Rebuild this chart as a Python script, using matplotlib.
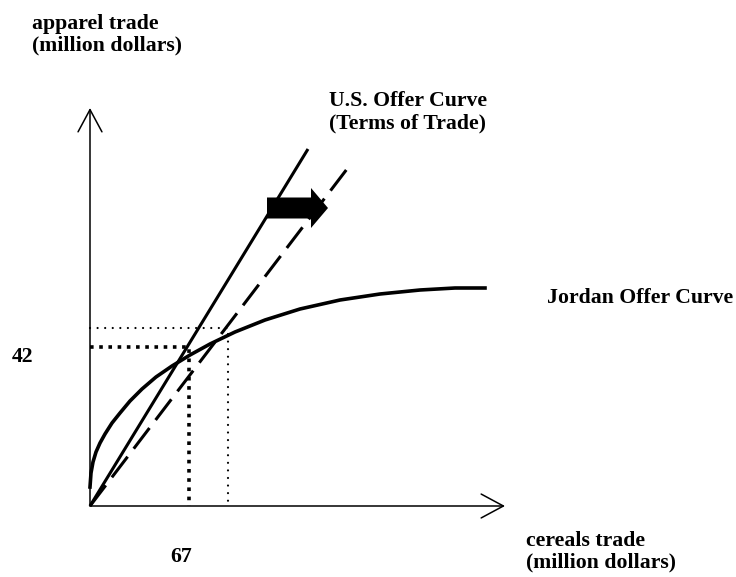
import numpy as np
import matplotlib
matplotlib.use("Agg")
import matplotlib.pyplot as plt

plt.rcParams['font.family'] = ['Liberation Serif', 'DejaVu Serif']
plt.rcParams['font.weight'] = 'bold'

# Jordan offer curve (cereals trade, apparel trade)
jordan_x = [0, 1, 3, 6, 10, 15, 22, 30, 40, 52, 66, 82, 100, 120, 145, 175, 210, 250, 290, 330, 365, 395]
jordan_y = [19, 33, 44, 54, 63, 72, 83, 93, 105, 117, 129, 140, 151, 162, 174, 186, 197, 206, 212, 216, 218, 218]

# U.S. offer curves (terms of trade rays from the origin)
us_old_x = [0, 218]
us_old_y = [0, 357]
us_new_x = [0, 257]
us_new_y = [0, 337]

# equilibrium guide lines
eq_old = (99, 159)
eq_new = (138, 178)

tick_labels = ["42", "67"]

fig = plt.figure(figsize=(7.36, 5.77), dpi=100)
ax = fig.add_axes([0, 0, 1, 1])
ax.set_xlim(-90, 646)
ax.set_ylim(-71, 506)
ax.axis('off')

# axes with open arrowheads
arr = dict(arrowstyle='->,head_length=0.8,head_width=0.43', lw=1.1, color='black',
           mutation_scale=20, shrinkA=0, shrinkB=0)
ax.annotate('', xy=(0, 398), xytext=(0, 0), arrowprops=arr)
ax.annotate('', xy=(415, 0), xytext=(0, 0), arrowprops=arr)

# guide lines
ax.plot([0, eq_new[0], eq_new[0]], [eq_new[1], eq_new[1], 0], color='black', lw=1.6,
        linestyle=(0, (0.01, 3.4)), dash_capstyle='round')
ax.plot([0, eq_old[0], eq_old[0]], [eq_old[1], eq_old[1], 0], color='black', lw=2.6,
        linestyle=(0, (1, 1.55)), dash_capstyle='butt')

# offer curves
ax.plot(us_old_x, us_old_y, color='black', lw=2.2, solid_capstyle='butt')
ax.plot(us_new_x, us_new_y, color='black', lw=2.2, linestyle=(0, (8.5, 3.3)))
ax.plot(jordan_x, jordan_y, color='black', lw=2.6, solid_joinstyle='round')

# block arrow for the shift
ax.arrow(177, 298, 61, 0, width=21, head_width=40, head_length=17,
         length_includes_head=True, color='black', lw=0)

fs = 15.7
# multi-line texts: y is the baseline of the last line
ax.text(-58, 456, "apparel trade\n(million dollars)", fontsize=fs, va='baseline',
        ha='left', linespacing=1.1)
ax.text(239, 378, "U.S. Offer Curve\n(Terms of Trade)", fontsize=fs, va='baseline',
        ha='left', linespacing=1.1)
ax.text(457, 203, "Jordan Offer Curve", fontsize=fs, va='baseline', ha='left')
ax.text(436, -61, "cereals trade\n(million dollars)", fontsize=fs, va='baseline',
        ha='left', linespacing=1.1)
ax.text(-78, 144, tick_labels[0], fontsize=fs, va='baseline', ha='left')
ax.text(80, -56, tick_labels[1], fontsize=fs, va='baseline', ha='left')

fig.savefig("out.png", dpi=100)
